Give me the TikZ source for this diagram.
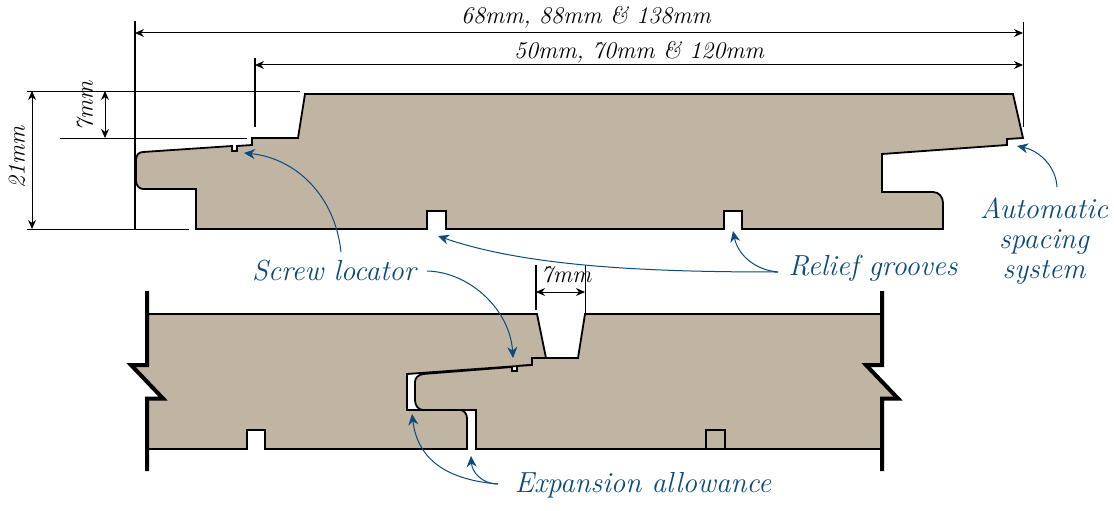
\documentclass[tikz,border=0pt]{standalone}
\usepackage{fontspec}
\usetikzlibrary{arrows.meta}
\definecolor{plank}{HTML}{C0B4A3}
\definecolor{inkblue}{HTML}{0B4A7C}
\tikzset{
    board/.style={fill=plank, draw=black, line width=1.8pt, line join=miter},
    breakline/.style={draw=black, line width=4pt, line join=miter},
    extline/.style={draw=black, line width=1pt},
    dimline/.style={draw=black, line width=1pt, {Stealth[length=9pt,width=8pt]}-{Stealth[length=9pt,width=8pt]}},
    callout/.style={draw=inkblue, line width=1pt, -{Stealth[length=11pt,width=10pt]}},
    handblack/.style={black, font=\fontsize{24}{26}\selectfont\itshape\addfontfeatures{LetterSpace=12}, align=center, inner sep=0pt},
    handblue/.style={inkblue, font=\fontsize{29}{30}\selectfont\itshape\addfontfeatures{LetterSpace=8}, align=center, inner sep=0pt}
}
\begin{document}
\begin{tikzpicture}[x=1pt, y=-1pt]
    \useasboundingbox (0,0) rectangle (1114,511);

    % upper board
    \draw[board] (305,94) -- (1013,94) -- (1023,138) -- (1007,139) -- (1007,145) -- (882,154)
        -- (882,192) -- (933,192) .. controls (939,192) and (943,197) .. (943,203) -- (943,229)
        -- (742,229) -- (742,211) -- (724,211) -- (724,229) -- (446,229) -- (446,211) -- (427,211) -- (427,229)
        -- (196,229) -- (196,189) -- (143,189) .. controls (139,189) and (136,185) .. (136,181) -- (136,160)
        .. controls (136,155) and (139,152) .. (143,152) -- (232,146) -- (232,151) -- (237,151) -- (237,146)
        -- (252,145) -- (252,138) -- (298,138) -- cycle;

    % lower boards
    \draw[board] (147,314) -- (537,314) -- (546,358) -- (532,358) -- (532,365) -- (407,374) -- (407,410)
        -- (460,410) .. controls (464,410) and (467,414) .. (467,418) -- (467,449)
        -- (265,449) -- (265,430) -- (247,430) -- (247,449) -- (147,449) -- (147,398.5) -- (163,398.5)
        -- (131,365) -- (147,365) -- cycle;
    \draw[board] (882,314) -- (585,314) -- (578,358) -- (532,358) -- (532,365) -- (517,366) -- (517,371)
        -- (512,371) -- (512,367) -- (423,374) .. controls (418,375) and (415,378) .. (415,382) -- (415,400)
        .. controls (415,405) and (418,410) .. (423,410) -- (476,410) -- (476,449)
        -- (725,449) -- (725,430) -- (706,430) -- (706,449) -- (882,449) -- (882,398.5) -- (898,398.5)
        -- (866,365) -- (882,365) -- cycle;

    % broken ends
    \draw[breakline] (147,291) -- (147,365) -- (131,365) -- (163,398.5) -- (147,398.5) -- (147,471);
    \draw[breakline] (882,291) -- (882,365) -- (866,365) -- (898,398.5) -- (882,398.5) -- (882,471);

    % extension lines
    \coordinate (leftTop) at (135,21);
    \coordinate (leftBot) at (135,229);
    \coordinate (innerTop) at (255,58);
    \coordinate (innerBot) at (255,127);
    \coordinate (rightTop) at (1023,22);
    \coordinate (rightBot) at (1023,127);
    \draw[extline, line width=2.5pt] (leftTop) -- (leftBot);
    \draw[extline, line width=2pt] (innerTop) -- (innerBot);
    \draw[extline] (rightTop) -- (rightBot);
    \draw[extline] (27,91) -- (300,91);
    \draw[extline] (60,138) -- (247,138);
    \draw[extline] (27,229) -- (189,229);
    \draw[extline, line width=2pt] (536,265) -- (536,310);
    \draw[extline] (585,265) -- (585,313);

    % dimensions
    \draw[dimline] (135,33) -- (1023,33);
    \draw[dimline] (255,65) -- (1023,65);
    \draw[dimline] (32,91) -- (32,229);
    \draw[dimline] (105,91) -- (105,138);
    \draw[dimline] (536,292) -- (585,292);

    \node[handblack] (overall) at (586,17) {68mm, 88mm \& 138mm};
    \node[handblack] (cover) at (639,52) {50mm, 70mm \& 120mm};
    \node[handblack, rotate=90] (thick) at (17,157) {21mm};
    \node[handblack, rotate=90] (lip) at (85,106) {7mm};
    \node[handblack] (gap) at (566,275) {7mm};

    % callouts
    \node[handblue] (screw) at (334,271) {Screw locator};
    \node[handblue] (relief) at (873,268) {Relief grooves};
    \node[handblue] (spacing) at (1044,241) {Automatic\\spacing\\system};
    \node[handblue] (expansion) at (643,485) {Expansion allowance};

    \coordinate (screwUp) at (341,252);
    \coordinate (screwUpTip) at (244,153);
    \coordinate (screwDown) at (427,271);
    \coordinate (screwDownTip) at (513,358);
    \coordinate (spacingOut) at (1057,187);
    \coordinate (spacingTip) at (1017,146);
    \coordinate (reliefOut) at (778,272);
    \coordinate (reliefFar) at (438,236);
    \coordinate (reliefNear) at (733,231);
    \coordinate (expOut) at (498,484);
    \coordinate (expLeft) at (412,414);
    \coordinate (expRight) at (471,456);

    \draw[callout] (screwUp) .. controls (335,195) and (295,158) .. (screwUpTip);
    \draw[callout] (screwDown) .. controls (470,272) and (510,310) .. (screwDownTip);
    \draw[callout] (spacingOut) .. controls (1056,167) and (1040,151) .. (spacingTip);
    \draw[callout] (reliefOut) .. controls (660,272) and (530,268) .. (reliefFar);
    \draw[callout] (reliefOut) .. controls (755,270) and (738,255) .. (reliefNear);
    \draw[callout] (expOut) .. controls (450,480) and (418,462) .. (expLeft);
    \draw[callout] (expOut) .. controls (482,484) and (472,472) .. (expRight);
\end{tikzpicture}
\end{document}
